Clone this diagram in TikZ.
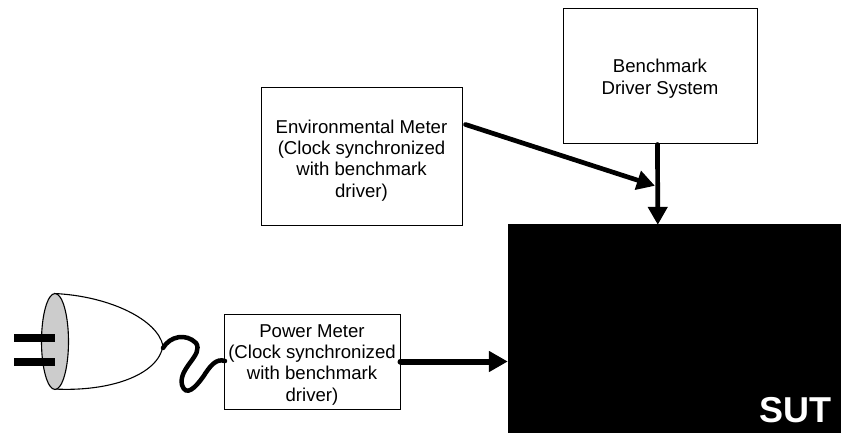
\documentclass[tikz,border=0pt]{standalone}
\usepackage{fontspec}
\setmainfont{Liberation Sans}
\usetikzlibrary{arrows.meta,calc}
\newcommand{\dropfirst}[1]{\rule{0pt}{#1}}
\tikzset{
  box/.style={draw=black,line width=1pt,fill=white,inner sep=0pt,align=center,font=\fontsize{18.6}{21.3}\selectfont},
  link/.style={line width=4.7pt,line cap=round,shorten >=-1pt,-{Triangle[length=18pt,width=19pt]}},
  biglink/.style={line width=6pt,line cap=round,-{Triangle[length=19pt,width=20pt]}},
  cord/.style={line width=4.5pt,line cap=round},
  plugline/.style={line width=1.1pt},
  prong/.style={fill=black,draw=none}
}
\begin{document}
\begin{tikzpicture}[x=1pt,y=-1pt]
\useasboundingbox (0,0) rectangle (841,433);
\node[box,minimum width=194pt,minimum height=135pt] (driver) at (660,76.5) {\dropfirst{18pt}Benchmark\\Driver System};
\node[box,minimum width=201pt,minimum height=137pt] (env) at (361.5,156.5) {\dropfirst{21.5pt}Environmental Meter\\(Clock synchronized\\with benchmark\\driver)};
\node[box,minimum width=176pt,minimum height=95pt] (power) at (312,361.5) {\dropfirst{19.5pt}Power Meter\\(Clock synchronized\\with benchmark\\driver)};
\node[draw=none,fill=black,minimum width=333pt,minimum height=209pt,inner sep=0pt] (sut) at (674.5,328.5) {};
\node[anchor=base east,text=white,inner sep=0pt,font=\fontsize{36}{38}\selectfont\bfseries] (sutlabel) at (832,422.5) {SUT};
% plug
\coordinate (plugtop) at (54,293.5);
\coordinate (plugbot) at (54,389);
\coordinate (plugtip) at (163,346);
\draw[plugline,fill=white] (plugtop) .. controls (110,296) and (158,320) .. (plugtip) .. controls (158,375) and (110,392) .. (plugbot);
\draw[plugline,fill=black!20] (55,341.5) ellipse [x radius=13.5pt,y radius=48pt];
\fill[prong] (14,334) rectangle (55,342);
\fill[prong] (14,358) rectangle (55,365.5);
% cord
\coordinate (cordstart) at (163,348);
\draw[cord] (cordstart) .. controls (170,336) and (186,333) .. (196,343) .. controls (204,355) and (178,368) .. (182,385) .. controls (186,397) and (195,388) .. (203,377) .. controls (210,366) and (216,358) .. (225,361);
% arrows
\draw[link] ($(env.east)+(3,-32)$) -- (654,185.5);
\draw[link] ($(driver.south west)+(95,0)$) -- ($(sut.north west)+(150,0)$);
\draw[biglink] (power.east) -- (power.east -| sut.west);
\end{tikzpicture}
\end{document}
